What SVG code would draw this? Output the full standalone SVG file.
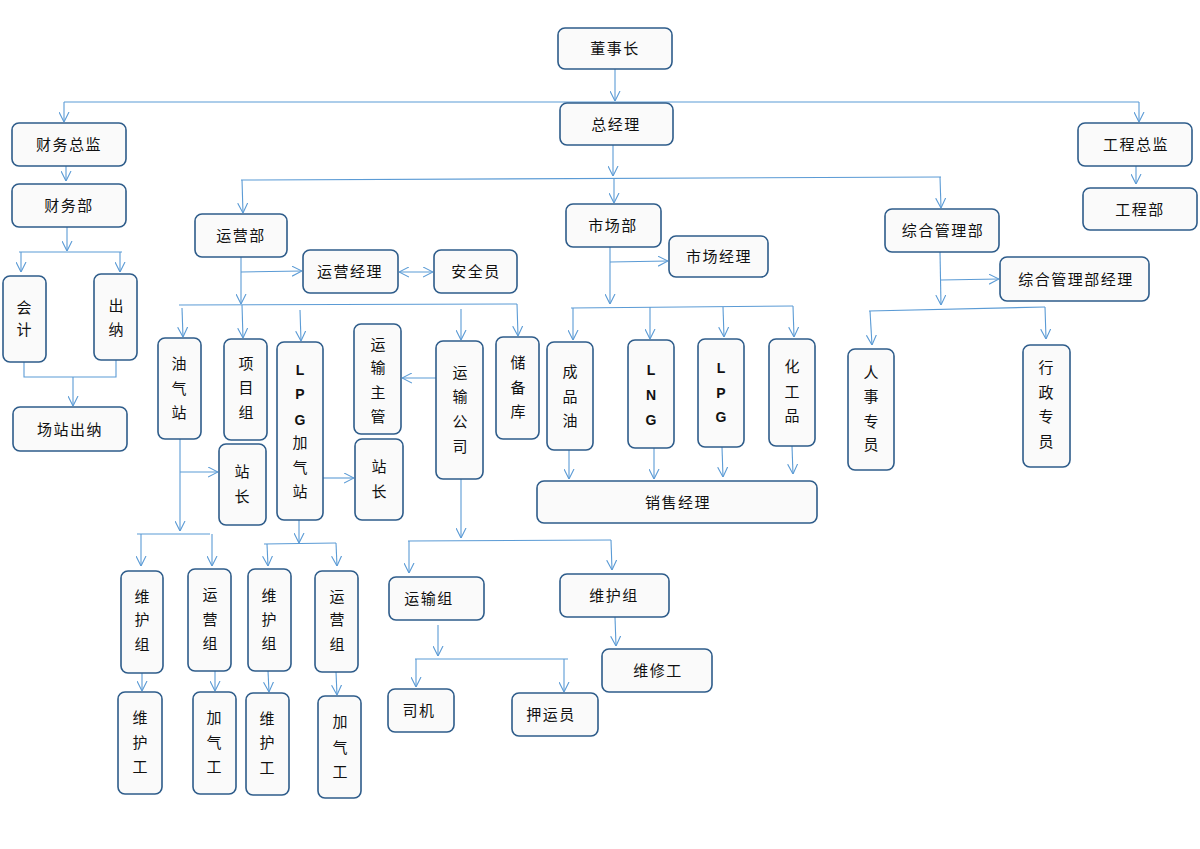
<svg xmlns="http://www.w3.org/2000/svg" width="1200" height="849" viewBox="0 0 1200 849">
<style>
.n rect{fill:#fafafa;stroke:#2e5c8a;stroke-width:1.6}
text{font-family:"Noto Sans CJK SC","Noto Sans",sans-serif;font-size:15px;fill:#111;text-anchor:middle}
.h{letter-spacing:1.5px}
.b{font-weight:bold;font-family:"Liberation Sans","Noto Sans",sans-serif;font-size:14px}
#conn path{fill:none;stroke:#5b9bd5;stroke-width:1.1}
.a{marker-end:url(#arr)}
.d{marker-end:url(#arr);marker-start:url(#arr)}
</style>
<defs>
<marker id="arr" viewBox="0 0 10 11" refX="10" refY="5.5" markerWidth="10" markerHeight="11" markerUnits="userSpaceOnUse" orient="auto-start-reverse">
<path d="M0,0.5 L10,5.5 L0,10.5" fill="none" stroke="#5b9bd5" stroke-width="1.1"/>
</marker>
</defs>
<rect width="1200" height="849" fill="#ffffff"/>
<g id="conn">
<path class="a" d="M615,69 L615,101"/>
<path d="M64,102 L1139,102"/>
<path class="a" d="M64,102 L64,122"/>
<path class="a" d="M1139,102 L1139,122"/>
<path class="a" d="M66,166 L66,181"/>
<path class="a" d="M1136,166 L1136,184"/>
<path class="a" d="M67,227 L67,251"/>
<path d="M19,252 L122,252"/>
<path class="a" d="M21,252 L21,272"/>
<path class="a" d="M120,252 L120,272"/>
<path d="M24,362 L24,377 L116,377 L116,360"/>
<path class="a" d="M73,377 L73,406"/>
<path class="a" d="M613,145 L613,176"/>
<path d="M241,180 L941,177"/>
<path class="a" d="M242,180 L243,213"/>
<path class="a" d="M614,179 L614,203"/>
<path class="a" d="M940,177 L941,208"/>
<path class="a" d="M241,257 L241,304"/>
<path class="a" d="M241,272 L302,271"/>
<path class="d" d="M399,272 L433,272"/>
<path d="M179,305 L517,304"/>
<path class="a" d="M182,308 L183,337"/>
<path class="a" d="M242,305 L243,338"/>
<path class="a" d="M300,310 L301,341"/>
<path class="a" d="M461,309 L461,340"/>
<path class="a" d="M517,304 L518,336"/>
<path class="a" d="M436,378 L402,378"/>
<path class="a" d="M180,439 L180,531"/>
<path class="a" d="M180,472 L218,472"/>
<path class="a" d="M323,478 L354,478"/>
<path d="M137,534 L210,534"/>
<path class="a" d="M141,534 L141,566"/>
<path class="a" d="M212,534 L212,566"/>
<path class="a" d="M299,520 L299,543"/>
<path d="M264,544 L336,543"/>
<path class="a" d="M267,544 L268,566"/>
<path class="a" d="M336,543 L337,566"/>
<path class="a" d="M142,673 L142,691"/>
<path class="a" d="M215,671 L215,691"/>
<path class="a" d="M268,671 L269,692"/>
<path class="a" d="M336,672 L337,695"/>
<path class="a" d="M461,479 L461,538"/>
<path d="M408,541 L611,540"/>
<path class="a" d="M409,541 L409,573"/>
<path class="a" d="M611,540 L612,570"/>
<path class="a" d="M438,625 L438,656"/>
<path d="M415,659 L568,659"/>
<path class="a" d="M416,659 L416,687"/>
<path class="a" d="M564,659 L564,692"/>
<path class="a" d="M615,617 L616,646"/>
<path class="a" d="M610,247 L610,304"/>
<path class="a" d="M610,262 L668,261"/>
<path d="M571,308 L793,306"/>
<path class="a" d="M573,308 L573,340"/>
<path class="a" d="M650,307 L650,339"/>
<path class="a" d="M723,307 L724,337"/>
<path class="a" d="M793,306 L794,337"/>
<path class="a" d="M569,450 L569,479"/>
<path class="a" d="M654,448 L654,479"/>
<path class="a" d="M722,447 L723,477"/>
<path class="a" d="M792,446 L793,474"/>
<path class="a" d="M940,252 L941,305"/>
<path class="a" d="M941,280 L999,279"/>
<path d="M869,311 L1045,307"/>
<path class="a" d="M870,311 L872,345"/>
<path class="a" d="M1045,307 L1046,339"/>
</g>
<g id="dsz" class="n"><rect x="558" y="28" width="114" height="41" rx="7"/><text class="h" x="615" y="54">董事长</text></g>
<g id="zjl" class="n"><rect x="560" y="103" width="113" height="42" rx="7"/><text class="h" x="616" y="130">总经理</text></g>
<g id="cwzj" class="n"><rect x="12" y="123" width="114" height="43" rx="7"/><text class="h" x="69" y="150">财务总监</text></g>
<g id="cwb" class="n"><rect x="12" y="184" width="114" height="43" rx="7"/><text class="h" x="69" y="211">财务部</text></g>
<g id="kj" class="n"><rect x="3" y="276" width="43" height="86" rx="7"/><text x="24"><tspan x="24" y="313">会</tspan><tspan x="24" y="335">计</tspan></text></g>
<g id="cn" class="n"><rect x="94" y="274" width="43" height="86" rx="7"/><text x="116"><tspan x="116" y="311">出</tspan><tspan x="116" y="335">纳</tspan></text></g>
<g id="cccn" class="n"><rect x="13" y="407" width="114" height="44" rx="7"/><text class="h" x="70" y="435">场站出纳</text></g>
<g id="gczj" class="n"><rect x="1078" y="123" width="114" height="43" rx="7"/><text class="h" x="1136" y="150">工程总监</text></g>
<g id="gcb" class="n"><rect x="1083" y="188" width="114" height="42" rx="7"/><text class="h" x="1140" y="215">工程部</text></g>
<g id="yyb" class="n"><rect x="195" y="214" width="92" height="43" rx="7"/><text class="h" x="241" y="241">运营部</text></g>
<g id="yyjl" class="n"><rect x="303" y="250" width="95" height="43" rx="7"/><text class="h" x="350" y="277">运营经理</text></g>
<g id="aqy" class="n"><rect x="434" y="250" width="83" height="43" rx="7"/><text class="h" x="476" y="277">安全员</text></g>
<g id="scb" class="n"><rect x="566" y="204" width="95" height="43" rx="7"/><text class="h" x="613" y="231">市场部</text></g>
<g id="scjl" class="n"><rect x="669" y="236" width="99" height="41" rx="7"/><text class="h" x="719" y="262">市场经理</text></g>
<g id="zhglb" class="n"><rect x="885" y="209" width="114" height="43" rx="7"/><text class="h" x="943" y="236">综合管理部</text></g>
<g id="zhjl" class="n"><rect x="1000" y="257" width="149" height="44" rx="7"/><text class="h" x="1076" y="285">综合管理部经理</text></g>
<g id="yqz" class="n"><rect x="158" y="338" width="43" height="101" rx="7"/><text><tspan x="179" y="369">油</tspan><tspan x="179" y="394">气</tspan><tspan x="179" y="418">站</tspan></text></g>
<g id="xmz" class="n"><rect x="224" y="339" width="43" height="101" rx="7"/><text><tspan x="246" y="369">项</tspan><tspan x="246" y="393">目</tspan><tspan x="246" y="418">组</tspan></text></g>
<g id="zz1" class="n"><rect x="219" y="444" width="47" height="81" rx="7"/><text><tspan x="242" y="477">站</tspan><tspan x="242" y="502">长</tspan></text></g>
<g id="lpgjqz" class="n"><rect x="277" y="342" width="46" height="178" rx="7"/><text><tspan class="b" x="300" y="375">L</tspan><tspan class="b" x="300" y="399">P</tspan><tspan class="b" x="300" y="425">G</tspan><tspan x="300" y="448">加</tspan><tspan x="300" y="473">气</tspan><tspan x="300" y="497">站</tspan></text></g>
<g id="yszg" class="n"><rect x="354" y="324" width="47" height="110" rx="7"/><text><tspan x="378" y="350">运</tspan><tspan x="378" y="373">输</tspan><tspan x="378" y="398">主</tspan><tspan x="378" y="422">管</tspan></text></g>
<g id="zz2" class="n"><rect x="355" y="439" width="48" height="81" rx="7"/><text><tspan x="379" y="472">站</tspan><tspan x="379" y="497">长</tspan></text></g>
<g id="ysgs" class="n"><rect x="436" y="341" width="47" height="138" rx="7"/><text><tspan x="460" y="378">运</tspan><tspan x="460" y="402">输</tspan><tspan x="460" y="427">公</tspan><tspan x="460" y="452">司</tspan></text></g>
<g id="cbk" class="n"><rect x="496" y="337" width="43" height="102" rx="7"/><text><tspan x="518" y="368">储</tspan><tspan x="518" y="393">备</tspan><tspan x="518" y="417">库</tspan></text></g>
<g id="cpy" class="n"><rect x="547" y="342" width="46" height="108" rx="7"/><text><tspan x="570" y="377">成</tspan><tspan x="570" y="402">品</tspan><tspan x="570" y="426">油</tspan></text></g>
<g id="lng" class="n"><rect x="628" y="340" width="46" height="108" rx="7"/><text><tspan class="b" x="651" y="375">L</tspan><tspan class="b" x="651" y="400">N</tspan><tspan class="b" x="651" y="425">G</tspan></text></g>
<g id="lpg" class="n"><rect x="698" y="339" width="46" height="108" rx="7"/><text><tspan class="b" x="721" y="373">L</tspan><tspan class="b" x="721" y="398">P</tspan><tspan class="b" x="721" y="422">G</tspan></text></g>
<g id="hgp" class="n"><rect x="769" y="339" width="46" height="107" rx="7"/><text><tspan x="792" y="372">化</tspan><tspan x="792" y="397">工</tspan><tspan x="792" y="421">品</tspan></text></g>
<g id="xsjl" class="n"><rect x="537" y="481" width="280" height="42" rx="7"/><text class="h" x="678" y="508">销售经理</text></g>
<g id="rszy" class="n"><rect x="848" y="349" width="46" height="121" rx="7"/><text><tspan x="871" y="378">人</tspan><tspan x="871" y="402">事</tspan><tspan x="871" y="427">专</tspan><tspan x="871" y="450">员</tspan></text></g>
<g id="xzzy" class="n"><rect x="1023" y="345" width="47" height="122" rx="7"/><text><tspan x="1046" y="373">行</tspan><tspan x="1046" y="398">政</tspan><tspan x="1046" y="422">专</tspan><tspan x="1046" y="447">员</tspan></text></g>
<g id="whz1" class="n"><rect x="121" y="571" width="42" height="102" rx="7"/><text><tspan x="142" y="602">维</tspan><tspan x="142" y="625">护</tspan><tspan x="142" y="650">组</tspan></text></g>
<g id="yyz1" class="n"><rect x="188" y="569" width="43" height="102" rx="7"/><text><tspan x="210" y="600">运</tspan><tspan x="210" y="625">营</tspan><tspan x="210" y="649">组</tspan></text></g>
<g id="whz2" class="n"><rect x="248" y="569" width="43" height="102" rx="7"/><text><tspan x="269" y="601">维</tspan><tspan x="269" y="625">护</tspan><tspan x="269" y="649">组</tspan></text></g>
<g id="yyz2" class="n"><rect x="315" y="571" width="43" height="101" rx="7"/><text><tspan x="337" y="602">运</tspan><tspan x="337" y="625">营</tspan><tspan x="337" y="650">组</tspan></text></g>
<g id="whg1" class="n"><rect x="118" y="692" width="44" height="102" rx="7"/><text><tspan x="140" y="723">维</tspan><tspan x="140" y="748">护</tspan><tspan x="140" y="772">工</tspan></text></g>
<g id="jqg1" class="n"><rect x="193" y="692" width="43" height="102" rx="7"/><text><tspan x="214" y="723">加</tspan><tspan x="214" y="748">气</tspan><tspan x="214" y="772">工</tspan></text></g>
<g id="whg2" class="n"><rect x="246" y="693" width="43" height="102" rx="7"/><text><tspan x="267" y="724">维</tspan><tspan x="267" y="748">护</tspan><tspan x="267" y="773">工</tspan></text></g>
<g id="jqg2" class="n"><rect x="318" y="696" width="43" height="102" rx="7"/><text><tspan x="340" y="727">加</tspan><tspan x="340" y="753">气</tspan><tspan x="340" y="777">工</tspan></text></g>
<g id="ysz" class="n"><rect x="389" y="577" width="95" height="43" rx="7"/><text class="h" x="429" y="604">运输组</text></g>
<g id="whz3" class="n"><rect x="560" y="574" width="109" height="43" rx="7"/><text class="h" x="614" y="601">维护组</text></g>
<g id="sj" class="n"><rect x="388" y="689" width="66" height="43" rx="7"/><text class="h" x="419" y="716">司机</text></g>
<g id="yyy" class="n"><rect x="512" y="693" width="86" height="43" rx="7"/><text class="h" x="551" y="720">押运员</text></g>
<g id="wxg" class="n"><rect x="602" y="649" width="110" height="43" rx="7"/><text class="h" x="658" y="676">维修工</text></g>
</svg>
